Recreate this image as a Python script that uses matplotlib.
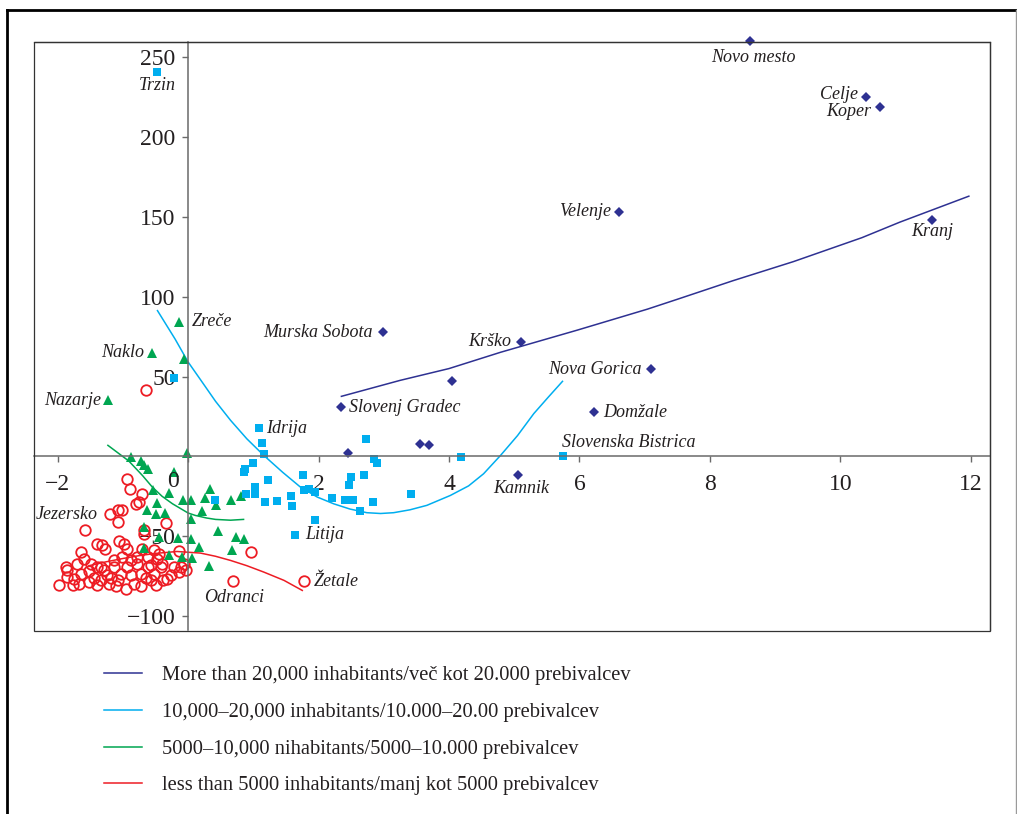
import matplotlib.pyplot as plt
from matplotlib.lines import Line2D
from matplotlib.patches import Rectangle

plt.rcParams['font.family'] = ['Liberation Serif', 'DejaVu Serif']

# more than 20,000 inhabitants
big_x = [8.61, 10.40, 10.60, 6.60, 11.41, 2.99, 5.10, 4.05, 7.09, 6.22, 2.35, 2.45, 3.56, 3.70, 5.05]
big_y = [260.2, 225.3, 219.1, 153.3, 148.1, 77.7, 71.9, 47.2, 54.6, 28.0, 31.1, 1.9, 7.5, 6.9, -11.7]
big_names = ['Novo mesto', 'Celje', 'Koper', 'Velenje', 'Kranj', 'Murska Sobota', 'Krško', '',
             'Nova Gorica', 'Domžale', 'Slovenj Gradec', '', '', '', 'Kamnik']
big_fit_x = [2.35, 3.25, 4.0, 4.79, 5.96, 7.04, 7.50, 8.35, 9.28, 10.33, 10.91, 11.97]
big_fit_y = [37.6, 47.6, 55.0, 65.2, 79.0, 92.2, 98.4, 110.0, 122.0, 137.0, 146.7, 163.0]

# 10,000-20,000
mid_x = [-0.47, -0.22, 1.08, 1.13, 1.17, 5.74, 4.19, 2.73, 2.85, 2.89, 2.49, 2.46, 2.69,
         3.41, 1.76, 1.77, 1.85, 1.95, 2.20, 2.40, 2.53, 2.83, 2.64, 1.94, 1.64, 1.58,
         1.60, 1.37, 1.18, 1.23, 1.03, 1.03, 0.88, 1.00, 0.87, 0.85, 0.41]
mid_y = [240.8, 48.9, 17.6, 8.2, 1.3, 0.2, -0.4, 10.9, -1.7, -4.2, -13.0, -17.8, -11.9,
         -23.4, -11.9, -20.9, -20.7, -22.4, -25.9, -27.6, -27.6, -28.4, -34.5, -40.1, -49.1, -25.1,
         -31.3, -28.0, -28.7, -15.0, -19.2, -23.4, -23.4, -4.2, -7.7, -9.8, -27.2]
mid_names = {0: 'Trzin', 2: 'Idrija', 5: 'Slovenska Bistrica', 24: 'Litija'}
mid_fit_x = [-0.47, -0.2, 0.0, 0.19, 0.42, 0.65, 0.9, 1.16, 1.45, 1.72, 1.98, 2.23, 2.48, 2.74,
             2.95, 3.15, 3.40, 3.66, 4.02, 4.30, 4.53, 4.79, 5.05, 5.30, 5.52, 5.74]
mid_fit_y = [91.3, 73.5, 59.1, 48.0, 34.5, 22.6, 11.0, 0.6, -10.0, -19.2, -25.5, -29.7, -33.0, -35.3,
             -35.8, -35.3, -33.5, -30.7, -24.5, -18.5, -10.9, 0.6, 13.0, 26.8, 37.0, 47.0]

# 5000-10,000
small_x = [-0.14, -0.06, -0.55, -1.23, -0.01, -0.88, -0.72, -0.67, -0.62, -0.21, -0.30, -0.54,
           -0.48, -0.63, -0.50, -0.36, -0.08, 0.04, 0.33, 0.26, 0.42, 0.22, 0.66, 0.81, 0.05,
           0.46, 0.04, -0.16, -0.67, 0.17, 0.06, 0.74, 0.86, 0.67, 0.32, -0.09, -0.45, -0.30, -0.68]
small_y = [84.2, 61.3, 64.8, 35.1, 2.1, -0.4, -2.9, -5.6, -7.7, -9.8, -23.0, -21.3,
           -29.3, -33.9, -36.4, -35.5, -27.6, -27.2, -20.6, -25.9, -30.6, -34.3, -27.2, -24.7, -39.2,
           -47.0, -51.6, -51.4, -44.3, -56.6, -63.5, -50.6, -51.6, -58.7, -68.9, -62.8, -50.6, -62.0, -57.5]
small_names = {0: 'Zreče', 2: 'Naklo', 3: 'Nazarje'}
small_fit_x = [-1.23, -0.91, -0.70, -0.55, -0.40, -0.24, 0.0, 0.11, 0.28, 0.42, 0.65, 0.85]
small_fit_y = [6.9, -2.9, -12.0, -19.2, -25.0, -29.7, -35.5, -37.0, -38.6, -39.5, -40.0, -39.5]

# less than 5000
tiny_x = [-0.94, -0.89, -0.70, -0.75, -0.80, -1.20, -1.08, -1.02, -1.08, -1.58, -0.68, -0.67,
          -0.34, -1.39, -1.32, -1.28, -1.65, -1.60, -1.06, -0.98, -0.94, -1.01, -0.70, -0.52,
          -0.45, -0.14, -0.40, -0.22, -0.11, -0.07, -0.14, -0.33, -1.98, -1.85, -1.75, -1.67,
          -1.52, -1.39, -1.21, -1.08, -0.83, -0.57, -0.62, -0.78, -0.93, -1.14, -1.34, -1.52,
          -1.65, -1.85, -1.24, -1.03, -0.88, -0.73, -0.52, -0.42, -0.47, -0.62, -0.78, -0.88,
          -0.57, -1.14, -1.39, -1.29, -1.49, -1.88, -1.70, -1.11, -0.96, -0.73, -0.50, -0.38,
          -0.27, -1.19, -1.45, -0.65, -1.34, -1.77, -0.04, -0.65, 0.97, 0.69, 1.78]
tiny_y = [-14.4, -20.7, -23.4, -28.7, -29.7, -35.9, -33.9, -33.4, -41.2, -46.0, -46.4, -48.5,
          -41.8, -54.7, -55.8, -57.9, -60.0, -64.1, -53.1, -54.7, -57.9, -63.1, -57.9, -58.9,
          -61.0, -59.4, -67.3, -69.4, -69.4, -67.3, -72.5, -76.7, -80.3, -71.5, -76.7, -79.8,
          -78.8, -80.9, -79.8, -77.7, -79.8, -77.7, -69.4, -67.3, -69.4, -69.4, -69.4, -71.9,
          -73.5, -75.7, -74.6, -73.5, -74.6, -73.5, -73.5, -69.4, -64.1, -63.1, -63.1, -65.2,
          -68.3, -65.2, -69.4, -71.5, -67.3, -69.4, -67.3, -81.5, -82.8, -81.5, -80.9, -77.7,
          -74.6, -76.5, -75.9, -75.9, -77.7, -80.9, -71.5, 41.4, -60.0, -78.2, -78.2]
tiny_names = {9: 'Jezersko', 81: 'Odranci', 82: 'Žetale'}
tiny_fit_x = [-1.52, -1.25, -1.0, -0.75, -0.5, -0.17, 0.19, 0.42, 0.65, 0.90, 1.16, 1.47, 1.75]
tiny_fit_y = [-68.5, -66.0, -64.0, -62.2, -60.8, -59.6, -60.6, -62.6, -65.2, -68.5, -72.5, -77.7, -84.0]

x_ticks = [-2, 0, 2, 4, 6, 8, 10, 12]
x_ticklabels = ['−2', '', '2', '4', '6', '8', '10', '12']
y_ticks = [-100, -50, 50, 100, 150, 200, 250]
y_ticklabels = ['−100', '−50', '50', '100', '150', '200', '250']

legend_labels = ['More than 20,000 inhabitants/več kot 20.000 prebivalcev',
                 '10,000–20,000 inhabitants/10.000–20.00 prebivalcev',
                 '5000–10,000 nihabitants/5000–10.000 prebivalcev',
                 'less than 5000 inhabitants/manj kot 5000 prebivalcev']

NAVY, CYAN, GREEN, RED = '#2E3192', '#00AEEF', '#00A651', '#ED1C24'
TXT = '#231F20'

fig = plt.figure(figsize=(10.17, 8.14), dpi=100)
W, H = 1017, 814
ax = fig.add_axes([34 / W, 1 - 630.5 / H, (990 - 34) / W, (630.5 - 41.5) / H])
ax.set_xlim(-2.363, 12.294)
ax.set_ylim(-109.1, 259.9)

# axes through the origin, box around
ax.spines['left'].set_position(('data', 0))
ax.spines['bottom'].set_position(('data', 0))
for s in ['left', 'bottom']:
    ax.spines[s].set_color('#6a6a6a')
    ax.spines[s].set_linewidth(1.1)
for s in ['top', 'right']:
    ax.spines[s].set_color('#333333')
    ax.spines[s].set_linewidth(0.9)
ax.add_patch(Rectangle((0, 0), 1, 1, transform=ax.transAxes, fill=False,
                       edgecolor='#333333', linewidth=0.9, clip_on=False, zorder=3))

ax.set_xticks(x_ticks)
ax.set_xticklabels(x_ticklabels)
ax.set_yticks(y_ticks)
ax.set_yticklabels(y_ticklabels)
ax.tick_params(direction='out', length=4, width=1, color='#6a6a6a',
               labelsize=17, labelcolor=TXT)
ax.tick_params(axis='x', pad=8.5)
ax.tick_params(axis='y', pad=5)
# the 0 of the x axis sits left of the vertical axis
ax.annotate('0', (0, 0), xytext=(-15, -25), textcoords='offset pixels',
            ha='center', va='center', fontsize=17, color=TXT)

# fitted curves
l1, = ax.plot(big_fit_x, big_fit_y, color=NAVY, lw=1.1)
l2, = ax.plot(mid_fit_x, mid_fit_y, color=CYAN, lw=1.1)
l3, = ax.plot(small_fit_x, small_fit_y, color=GREEN, lw=1.1)
l4, = ax.plot(tiny_fit_x, tiny_fit_y, color=RED, lw=1.1)

# points
ax.plot(tiny_x, tiny_y, 'o', ms=7.6, mfc='none', mec=RED, mew=1.3)
ax.plot(small_x, small_y, '^', ms=6.6, color=GREEN, mew=0)
ax.plot(mid_x, mid_y, 's', ms=6.2, color=CYAN, mew=0)
ax.plot(big_x, big_y, 'D', ms=4.7, color=NAVY, mew=0, clip_on=False)

# labels: offsets in pixels (dx, dy, ha)
offsets = {
    'Novo mesto': (4, -16, 'center'), 'Celje': (-8, 2, 'right'), 'Koper': (-8, -5, 'right'),
    'Velenje': (-8, 0, 'right'), 'Kranj': (0, -12, 'center'), 'Murska Sobota': (-10, 0, 'right'),
    'Krško': (-10, 0, 'right'), 'Nova Gorica': (-9, 0, 'right'), 'Domžale': (9, -1, 'left'),
    'Slovenj Gradec': (8, -1, 'left'), 'Kamnik': (4, -13, 'center'), 'Trzin': (0, -14, 'center'),
    'Idrija': (8, 0, 'left'), 'Slovenska Bistrica': (-1, 14, 'left'), 'Litija': (10, 0, 'left'),
    'Zreče': (13, 0, 'left'), 'Naklo': (-8, 0, 'right'), 'Nazarje': (-7, 0, 'right'),
    'Jezersko': (-18, 15, 'center'), 'Odranci': (1, -16, 'center'), 'Žetale': (10, 0, 'left'),
}


def label(x, y, name):
    dx, dy, ha = offsets[name]
    ax.annotate(name, (x, y), xytext=(dx, dy), textcoords='offset pixels',
                ha=ha, va='center', fontsize=13, style='italic', color=TXT)


for i, n in enumerate(big_names):
    if n:
        label(big_x[i], big_y[i], n)
for i, n in mid_names.items():
    label(mid_x[i], mid_y[i], n)
for i, n in small_names.items():
    label(small_x[i], small_y[i], n)
for i, n in tiny_names.items():
    label(tiny_x[i], tiny_y[i], n)

fig.legend([l1, l2, l3, l4], legend_labels, loc='upper left',
           bbox_to_anchor=(104 / W, 1 - 666 / H), frameon=False, fontsize=14.8,
           handlelength=1.84, handletextpad=0.97, labelspacing=0.84,
           borderpad=0, borderaxespad=0, labelcolor=TXT)

# outer frame
fig.add_artist(Line2D([7 / W, 7 / W], [0, 1 - 10 / H], transform=fig.transFigure,
                      color='black', lw=2))
fig.add_artist(Line2D([7 / W, 1015.5 / W], [1 - 10 / H, 1 - 10 / H], transform=fig.transFigure,
                      color='black', lw=2))
fig.add_artist(Line2D([1015.5 / W, 1015.5 / W], [0, 1 - 10 / H], transform=fig.transFigure,
                      color='#9a9a9a', lw=1))

fig.savefig('out.png', dpi=100)
